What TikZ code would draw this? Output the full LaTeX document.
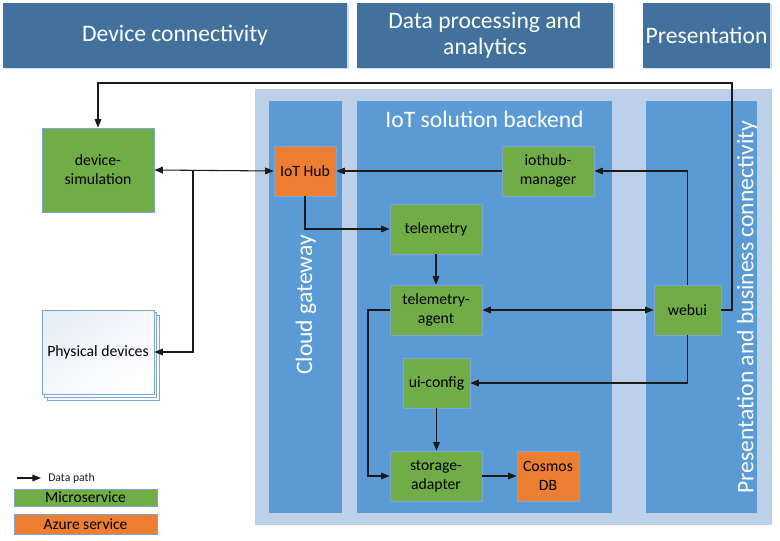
\documentclass[tikz,border=0pt]{standalone}
\usepackage{fontspec}
\setmainfont{Carlito}
\usetikzlibrary{arrows.meta}
\definecolor{hdr}{HTML}{41719C}
\definecolor{hdrsh}{HTML}{D3DEEC}
\definecolor{col}{HTML}{5B9BD5}
\definecolor{panel}{HTML}{BDD0E9}
\definecolor{grn}{HTML}{70AD47}
\definecolor{org}{HTML}{ED7D31}
\definecolor{bdr}{HTML}{7FA5D5}
\definecolor{physc}{HTML}{E9EEF6}
\definecolor{ln}{HTML}{1A1A1A}
\begin{document}
\begin{tikzpicture}[x=0.75pt,y=-0.75pt,
  pxsize/.style 2 args={minimum width=#1*0.75pt, minimum height=#2*0.75pt},
  hdrbox/.style={rectangle, fill=hdr, draw=none, text=white, inner sep=0pt,
    align=center, font=\fontsize{17.7}{19.5}\selectfont},
  biglbl/.style={text=white, inner sep=0pt, font=\fontsize{17.7}{21}\selectfont},
  micro/.style={rectangle, fill=grn, draw=bdr, line width=0.5pt, inner sep=0pt,
    align=center, text=black, font=\fontsize{11.8}{14.2}\selectfont},
  azure/.style={micro, fill=org},
  physbox/.style={rectangle, draw=bdr, line width=0.6pt, top color=physc,
    bottom color=white, shading angle=35},
  tip/.tip={Triangle[length=6.4pt,width=5pt]},
  arr/.style={-tip, line width=0.8pt, draw=ln},
  arrtwo/.style={tip-tip, line width=0.8pt, draw=ln}
]
\useasboundingbox (0,0) rectangle (780,541);
\fill[white] (0,0) rectangle (780,541);

% header bars
\fill[hdrsh] (4.5,4.5) rectangle (348.5,69.5);
\fill[hdrsh] (358.5,4.5) rectangle (614.5,69.5);
\fill[hdrsh] (644.5,4.5) rectangle (771.5,69.5);
\node[hdrbox, pxsize={344}{65}] (h1) at (175,35.5) {Device connectivity};
\node[hdrbox, pxsize={256}{65}] (h2) at (485,35.5) {Data processing and\\analytics};
\node[hdrbox, pxsize={127}{65}] (h3) at (706.5,35.5) {Presentation};

% panels
\fill[panel] (255,89) rectangle (772,525);
\fill[col] (269,101) rectangle (342,513);
\fill[col] (357,101) rectangle (612,513);
\fill[col] (646,101) rectangle (757,513);

\node[biglbl] (lblback) at (484.5,119) {IoT solution backend};
\node[biglbl, rotate=90] (lblcloud) at (306,305) {Cloud gateway};
\node[biglbl, rotate=90] (lblpres) at (747,307) {Presentation and business connectivity};

% physical devices stack
\draw[physbox] (47,315) rectangle (159,400);
\draw[physbox] (44.5,312.5) rectangle (156.5,397.5);
\node[physbox, pxsize={112}{84}, inner sep=0pt, text=black,
  font=\fontsize{11.8}{14.2}\selectfont] (phys) at (98,352) {Physical devices};

% nodes
\node[micro, pxsize={112}{84}] (devsim) at (98,170) {device-\\simulation};
\node[azure, pxsize={62}{50}] (iothub) at (305,171) {IoT Hub};
\node[micro, pxsize={92}{50}] (manager) at (548,171) {iothub-\\manager};
\node[micro, pxsize={92}{50}] (telemetry) at (436,229) {telemetry};
\node[micro, pxsize={92}{50}] (tagent) at (436,310) {telemetry-\\agent};
\node[micro, pxsize={67}{50}] (webui) at (687.5,310) {webui};
\node[micro, pxsize={67}{50}] (uiconfig) at (436.5,383) {ui-config};
\node[micro, pxsize={92}{50}] (storage) at (436,476) {storage-\\adapter};
\node[azure, pxsize={62}{50}] (cosmos) at (548,476) {Cosmos\\DB};

% helper coordinates
\coordinate (loopR) at (732,83);
\coordinate (j1) at (193,171);
\coordinate (tl) at (368,476);

% connectors
\draw[arr] (webui.east) -| (loopR) -| (devsim.north);
\draw[arrtwo] (devsim.east) -- (iothub.west);
\draw[arr] (j1) |- (phys.east);
\draw[arr] (manager.west) -- (iothub.east);
\draw[arr] (webui.north) |- (manager.east);
\draw[arr] (iothub.south) |- (telemetry.west);
\draw[arr] (telemetry.south) -- (tagent.north);
\draw[arrtwo] (tagent.east) -- (webui.west);
\draw[arr] (webui.south) |- (uiconfig.east);
\draw[arr] (uiconfig.south) -- (uiconfig.south |- storage.north);
\draw[arr] (tagent.west) -| (tl) -- (storage.west);
\draw[arr] (storage.east) -- (cosmos.west);

% legend
\coordinate (lgA) at (17,478);
\coordinate (lgB) at (41,478);
\draw[arr] (lgA) -- (lgB);
\node[anchor=west, inner sep=0pt, text=ln, font=\fontsize{8.8}{10}\selectfont] (lgtext) at (48,478) {Data path};
\node[micro, pxsize={143}{17}, font=\fontsize{11.6}{13}\selectfont] (lgmicro) at (85.5,497.5) {Microservice};
\node[azure, pxsize={143}{20}, font=\fontsize{11.6}{13}\selectfont] (lgazure) at (85.5,524) {Azure service};
\end{tikzpicture}
\end{document}
